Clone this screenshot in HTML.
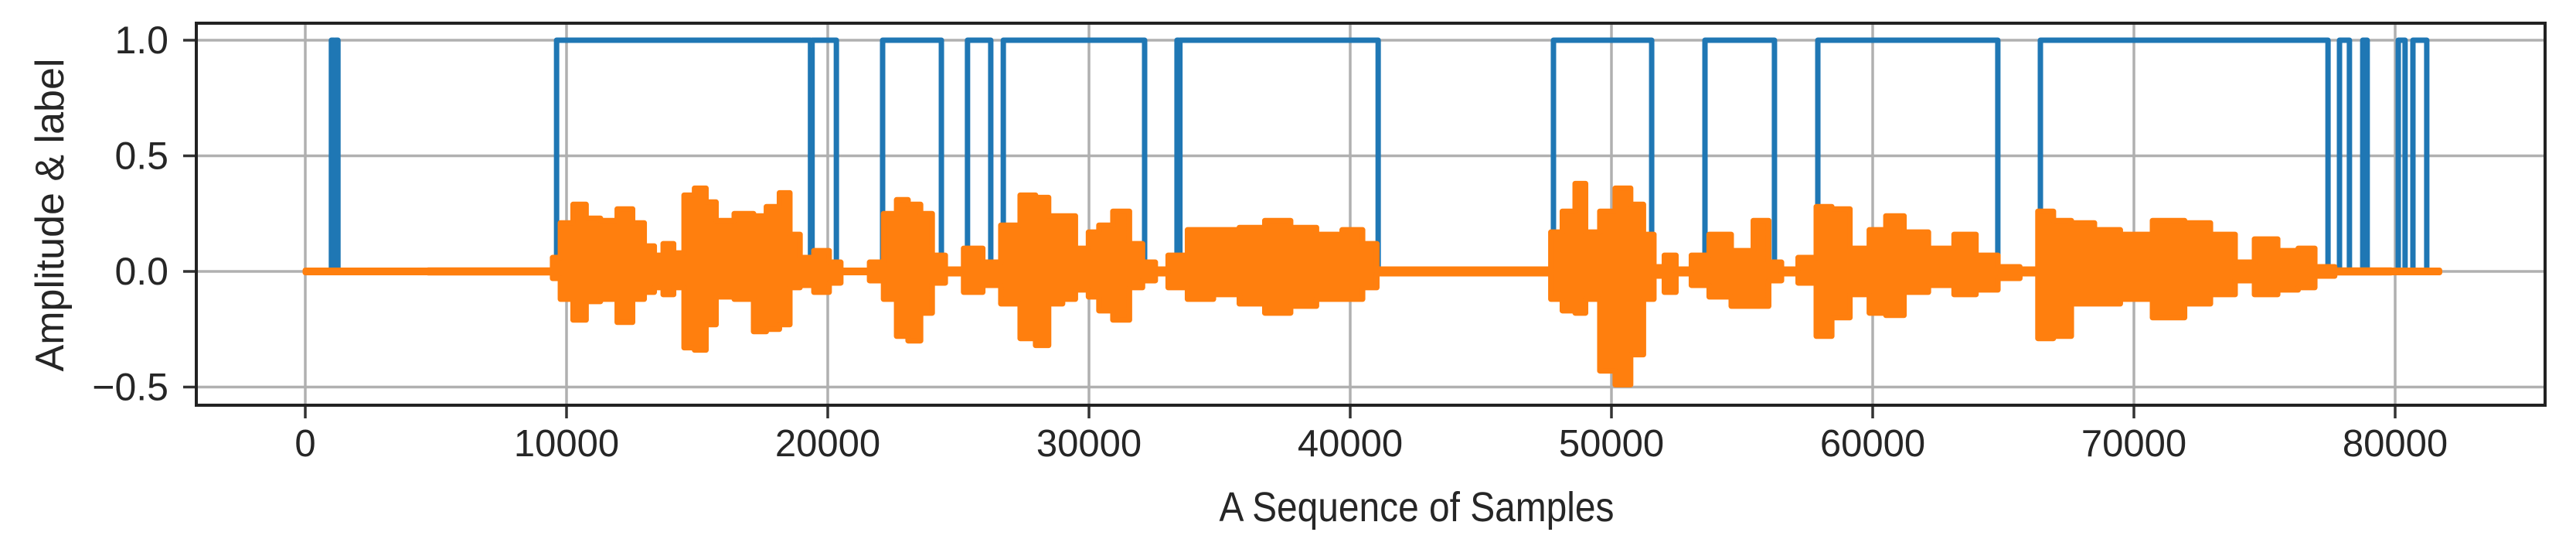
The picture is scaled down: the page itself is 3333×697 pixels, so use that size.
<!DOCTYPE html>
<html><head><meta charset="utf-8"><style>
html,body{margin:0;padding:0;background:#fff;width:3333px;height:697px;overflow:hidden}
svg{display:block}
text{font-family:"Liberation Sans",sans-serif;fill:#262626}
</style></head><body>
<svg id="chart" width="3333" height="697" viewBox="0 0 3333 697" xmlns="http://www.w3.org/2000/svg"></svg>
<script>
const xTicks = [0,10000,20000,30000,40000,50000,60000,70000,80000];
const xTickLabels = ["0","10000","20000","30000","40000","50000","60000","70000","80000"];
const yTicks = [-0.5,0,0.5,1.0];
const yTickLabels = ["\u22120.5","0.0","0.5","1.0"];
const labelOnStarts = [1000,1150,9620,19400,22100,25350,26720,33370,33480,47780,53580,57900,66420,77870,78760,78860,80120,80680];
const labelOnEnds   = [1100,1250,19340,20330,24350,26240,32130,33430,41070,51540,56240,64790,77430,78250,78820,78930,80380,81210];
const envSamples = [0,9400,9530,10000,10500,11000,11600,12280,12780,13170,13550,13850,14350,14650,15150,15530,15920,16920,17400,17900,18400,18700,19180,19760,20350,20650,21360,21840,22430,22840,23310,23800,24200,24800,25600,26270,26980,27750,28160,28750,29230,29730,30230,30530,31300,31800,32300,32780,33280,34260,35270,36240,37220,38220,39200,40180,40770,41270,47580,47780,48460,48760,49260,49850,50440,51030,51420,51830,52220,52720,53400,54080,55090,55770,56270,56750,57540,58140,58730,59530,60210,60800,61600,62670,63560,64350,65240,66030,66620,67220,67990,68990,69970,71450,72430,73430,74320,74910,76100,76480,77370,78000,81700];
const envUpper = [0.005,0.006,0.06,0.21,0.29,0.23,0.22,0.27,0.21,0.11,0.07,0.12,0.08,0.33,0.36,0.30,0.22,0.25,0.24,0.28,0.34,0.16,0.06,0.09,0.04,0.005,0.005,0.04,0.25,0.31,0.29,0.25,0.07,0.01,0.10,0.04,0.20,0.33,0.32,0.24,0.24,0.10,0.17,0.20,0.26,0.12,0.04,0.01,0.07,0.18,0.18,0.19,0.22,0.19,0.16,0.18,0.12,0.01,0.01,0.17,0.26,0.38,0.17,0.26,0.36,0.29,0.16,0.02,0.07,0.01,0.07,0.16,0.09,0.22,0.04,0.01,0.06,0.28,0.27,0.10,0.18,0.24,0.17,0.10,0.16,0.07,0.02,0.01,0.26,0.22,0.21,0.18,0.16,0.22,0.21,0.16,0.04,0.14,0.09,0.10,0.02,0.006,0.005];
const envLower = [-0.005,-0.006,-0.03,-0.12,-0.21,-0.13,-0.12,-0.22,-0.12,-0.09,-0.07,-0.10,-0.07,-0.33,-0.34,-0.23,-0.11,-0.12,-0.26,-0.25,-0.23,-0.07,-0.06,-0.09,-0.05,-0.005,-0.005,-0.04,-0.12,-0.28,-0.30,-0.18,-0.05,-0.01,-0.09,-0.06,-0.14,-0.29,-0.32,-0.14,-0.12,-0.08,-0.11,-0.17,-0.21,-0.07,-0.04,-0.01,-0.07,-0.12,-0.10,-0.14,-0.18,-0.15,-0.12,-0.12,-0.07,-0.01,-0.01,-0.12,-0.17,-0.18,-0.12,-0.43,-0.49,-0.36,-0.12,-0.02,-0.09,-0.01,-0.06,-0.11,-0.15,-0.15,-0.04,-0.01,-0.05,-0.28,-0.20,-0.10,-0.18,-0.19,-0.09,-0.06,-0.10,-0.08,-0.03,-0.01,-0.29,-0.28,-0.14,-0.14,-0.12,-0.20,-0.14,-0.10,-0.04,-0.10,-0.08,-0.07,-0.02,-0.006,-0.005];

const L=254,R=3293,T=30,B=524;
const X0=395, XS=338/10000;
const Y0=351, YS=299;
const sx=v=>X0+v*XS;
const sy=v=>Y0-v*YS;
const NS="http://www.w3.org/2000/svg";
const svg=document.getElementById('chart');
function mk(tag,attrs,parent){const e=document.createElementNS(NS,tag);for(const k in attrs)e.setAttribute(k,attrs[k]);(parent||svg).appendChild(e);return e;}

const grid=mk('g',{});


xTicks.forEach((t,i)=>{
  const gl=mk('line',{x1:sx(t),x2:sx(t),y1:T,y2:B,stroke:'#b0b0b0','stroke-width':3.5},grid);
  
  
  const tk=mk('line',{x1:sx(t),x2:sx(t),y1:B,y2:B+17,stroke:'#333','stroke-width':3.5});
  
  
  const tx=mk('text',{x:sx(t),y:590,'text-anchor':'middle','font-size':49});
  tx.textContent=xTickLabels[i];
  
  
});
yTicks.forEach((t,i)=>{
  const gl=mk('line',{x1:L,x2:R,y1:sy(t),y2:sy(t),stroke:'#b0b0b0','stroke-width':3.5},grid);
  
  
  const tk=mk('line',{x1:L-17,x2:L,y1:sy(t),y2:sy(t),stroke:'#333','stroke-width':3.5});
  
  
  const tx=mk('text',{x:218,y:sy(t)+17,'text-anchor':'end','font-size':50});
  tx.textContent=yTickLabels[i];
  
  
});

// label (blue) step series
let d='M'+sx(0)+','+sy(0);
labelOnStarts.forEach((s,i)=>{
  const e=labelOnEnds[i];
  d+=' L'+sx(s)+','+sy(0)+' L'+sx(s)+','+sy(1)+' L'+sx(e)+','+sy(1)+' L'+sx(e)+','+sy(0);
});
d+=' L'+sx(81700)+','+sy(0);
const lab=mk('path',{d:d,fill:'none',stroke:'#1f77b4','stroke-width':7,'stroke-linejoin':'round'});



// amplitude (orange) envelope, blocky steps
const n=envSamples.length;
const mid=i=>(envSamples[i]+envSamples[i+1])/2;
let pd='M'+sx(envSamples[0])+','+sy(envUpper[0]);
for(let i=0;i<n-1;i++){
  pd+=' L'+sx(mid(i))+','+sy(envUpper[i])+' L'+sx(mid(i))+','+sy(envUpper[i+1]);
}
pd+=' L'+sx(envSamples[n-1])+','+sy(envUpper[n-1])+' L'+sx(envSamples[n-1])+','+sy(envLower[n-1]);
for(let i=n-2;i>=0;i--){
  pd+=' L'+sx(mid(i))+','+sy(envLower[i+1])+' L'+sx(mid(i))+','+sy(envLower[i]);
}
pd+=' L'+sx(envSamples[0])+','+sy(envLower[0])+' Z';
const amp=mk('path',{d:pd,fill:'#ff7f0e',stroke:'#ff7f0e','stroke-width':7,'stroke-linejoin':'round'});



const frame=mk('rect',{x:L,y:T,width:R-L,height:B-T,fill:'none',stroke:'#222','stroke-width':4});



const xl=mk('text',{x:1833,y:674,'text-anchor':'middle','font-size':54,textLength:511,lengthAdjust:'spacingAndGlyphs'});
xl.textContent='A Sequence of Samples';


const yl=mk('text',{x:0,y:0,'text-anchor':'middle','font-size':52,textLength:405,lengthAdjust:'spacingAndGlyphs',transform:'translate(82,278) rotate(-90)'});
yl.textContent='Amplitude & label';


</script>
</body></html>
